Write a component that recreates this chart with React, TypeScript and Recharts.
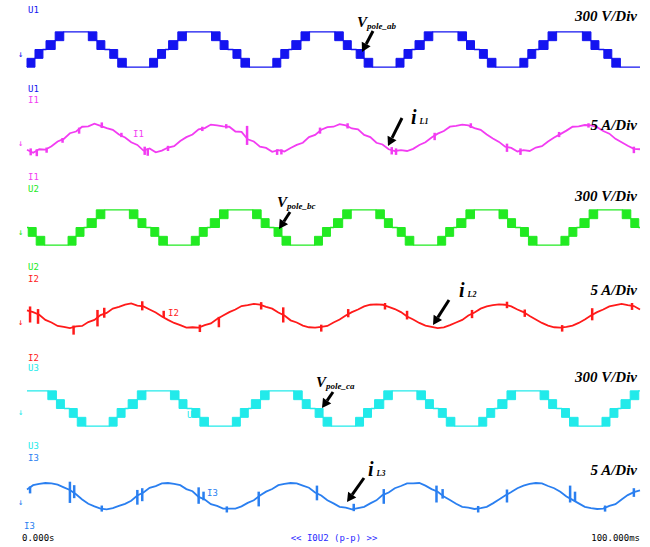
import React from 'react';
import { LineChart, Line, XAxis, YAxis, ReferenceArea, ReferenceLine } from 'recharts';

type Step = [number, number];
type Spike = [number, number, number];

// pole voltages: staircase corners [time ms, level 0..4]
const vPoleAb: Step[] = [
  [0, 0], [1.3, 1], [2.6, 2], [3.1, 2], [4.6, 3], [6.0, 4], [10.0, 4], [11.4, 3], [12.7, 2], [13.5, 2], [14.8, 1], [16.2, 0],
  [20.0, 0], [21.3, 1], [22.6, 2], [23.1, 2], [24.6, 3], [26.0, 4], [30.1, 4], [31.5, 3], [32.8, 2], [33.6, 2], [34.9, 1], [36.3, 0],
  [40.1, 0], [41.4, 1], [42.7, 2], [43.2, 2], [44.7, 3], [46.1, 4], [50.2, 4], [51.6, 3], [52.9, 2], [53.7, 2], [55.0, 1], [56.4, 0],
  [60.2, 0], [61.5, 1], [62.8, 2], [63.3, 2], [64.8, 3], [66.2, 4], [70.3, 4], [71.7, 3], [73.0, 2], [73.8, 2], [75.1, 1], [76.5, 0],
  [80.4, 0], [81.7, 1], [83.0, 2], [83.5, 2], [85.0, 3], [86.4, 4], [90.6, 4], [92.0, 3], [93.3, 2], [94.1, 2], [95.4, 1], [96.8, 0],
  [100, 0],
];

const vPoleBc: Step[] = [
  [0, 2], [0.2, 2], [1.5, 1], [2.9, 0],
  [6.7, 0], [8.0, 1], [9.3, 2], [9.8, 2], [11.3, 3], [12.7, 4], [16.7, 4], [18.1, 3], [19.4, 2], [20.2, 2], [21.5, 1], [22.9, 0],
  [26.8, 0], [28.1, 1], [29.4, 2], [29.9, 2], [31.4, 3], [32.8, 4], [36.8, 4], [38.2, 3], [39.5, 2], [40.3, 2], [41.6, 1], [43.0, 0],
  [46.9, 0], [48.2, 1], [49.5, 2], [50.0, 2], [51.5, 3], [52.9, 4], [56.9, 4], [58.3, 3], [59.6, 2], [60.4, 2], [61.7, 1], [63.1, 0],
  [67.0, 0], [68.3, 1], [69.6, 2], [70.1, 2], [71.6, 3], [73.0, 4], [77.0, 4], [78.4, 3], [79.7, 2], [80.5, 2], [81.8, 1], [83.2, 0],
  [87.1, 0], [88.4, 1], [89.7, 2], [90.2, 2], [91.7, 3], [93.1, 4], [97.1, 4], [98.5, 3], [99.8, 2], [100, 2],
];

const vPoleCa: Step[] = [
  [0, 4], [3.4, 4], [4.8, 3], [6.1, 2], [6.9, 2], [8.2, 1], [9.6, 0],
  [13.4, 0], [14.7, 1], [16.0, 2], [16.5, 2], [18.0, 3], [19.4, 4], [23.4, 4], [24.8, 3], [26.1, 2], [26.9, 2], [28.2, 1], [29.6, 0],
  [33.5, 0], [34.8, 1], [36.1, 2], [36.6, 2], [38.1, 3], [39.5, 4], [43.5, 4], [44.9, 3], [46.2, 2], [47.0, 2], [48.3, 1], [49.7, 0],
  [53.6, 0], [54.9, 1], [56.2, 2], [56.7, 2], [58.2, 3], [59.6, 4], [63.6, 4], [65.0, 3], [66.3, 2], [67.1, 2], [68.4, 1], [69.8, 0],
  [73.7, 0], [75.0, 1], [76.3, 2], [76.8, 2], [78.3, 3], [79.7, 4], [83.7, 4], [85.1, 3], [86.4, 2], [87.2, 2], [88.5, 1], [89.9, 0],
  [93.8, 0], [95.1, 1], [96.4, 2], [96.9, 2], [98.4, 3], [99.8, 4], [100, 4],
];

// load currents in A, one sample per ms from 0 to 100 ms
const iL1: number[] = [
  -2.7, -3.4, -2.6, -2.7, -1.9, -0.8, -0.2, 1.1, 1.5, 2.6, 2.7, 3.3, 2.8, 2.3, 1.9, 0.8, 0.1, -1.0, -1.6, -2.9,
  -2.4, -3.3, -2.9, -2.2, -1.9, -0.7, 0.2, 0.8, 2.0, 2.3, 3.1, 2.9, 2.7, 2.6, 1.5, 1.4, -0.3, -0.8, -2.0, -2.3,
  -3.2, -2.8, -3.1, -2.3, -1.6, -1.1, 0.2, 0.7, 1.9, 2.5, 2.6, 3.2, 2.9, 2.2, 2.0, 0.7, 0.2, -1.1, -1.5, -2.6,
  -3.0, -2.8, -3.0, -2.5, -1.6, -1.0, 0.1, 1.0, 1.6, 2.6, 2.8, 3.1, 2.9, 2.3, 1.9, 0.8, -0.1, -0.9, -2.0, -2.3,
  -3.1, -2.8, -3.0, -2.2, -1.9, -0.8, 0.1, 0.9, 1.7, 2.6, 2.7, 3.0, 2.9, 2.5, 1.6, 1.0, -0.2, -1.0, -1.8, -2.5,
  -2.6,
];

const iL2: number[] = [
  1.3, 0.9, 0.3, -0.9, -1.5, -2.3, -2.5, -2.8, -2.4, -2.3, -1.4, -0.9, 0.2, 0.7, 1.7, 2.1, 2.6, 2.9, 2.4, 2.2,
  1.5, 0.8, -0.1, -0.9, -1.6, -2.1, -2.7, -2.6, -2.7, -2.1, -1.7, -0.7, 0.1, 0.9, 1.5, 2.3, 2.5, 2.8, 2.6, 2.1,
  1.7, 0.8, 0.1, -1.0, -1.5, -2.2, -2.6, -2.7, -2.5, -2.3, -1.5, -0.8, 0.1, 0.9, 1.5, 2.2, 2.6, 2.7, 2.6, 2.1,
  1.6, 0.9, -0.1, -0.8, -1.6, -2.2, -2.5, -2.8, -2.6, -2.1, -1.5, -0.9, 0.1, 0.8, 1.7, 2.2, 2.5, 2.7, 2.6, 2.2,
  1.5, 0.9, 0.0, -0.8, -1.6, -2.2, -2.6, -2.7, -2.5, -2.2, -1.6, -0.8, 0.1, 0.9, 1.5, 2.2, 2.5, 2.8, 2.5, 2.3,
  1.5,
];

const iL3: number[] = [
  1.5, 2.5, 2.8, 3.0, 2.9, 2.6, 2.0, 1.4, 0.4, -0.8, -1.8, -2.4, -2.9, -3.1, -2.8, -2.3, -1.8, -1.1, 0.1, 0.8,
  1.9, 2.3, 2.9, 3.0, 2.8, 2.5, 1.6, 1.1, -0.2, -0.8, -1.9, -2.3, -2.9, -2.9, -2.9, -2.4, -1.6, -1.0, 0.1, 1.0,
  1.6, 2.5, 2.8, 3.0, 2.9, 2.4, 1.9, 0.8, 0.1, -1.0, -1.7, -2.5, -2.7, -3.1, -2.8, -2.5, -1.7, -1.0, 0.2, 0.8,
  1.8, 2.3, 2.9, 2.9, 3.0, 2.4, 1.6, 1.0, -0.1, -0.9, -1.8, -2.5, -2.7, -3.0, -2.8, -2.5, -1.7, -0.8, 0.1, 0.9,
  1.8, 2.4, 2.8, 3.0, 2.9, 2.3, 1.8, 1.0, -0.1, -0.9, -1.7, -2.5, -2.8, -3.0, -2.9, -2.3, -1.9, -0.8, 0.2, 0.9,
  1.3,
];

// switching spikes on the currents [time ms, low A, high A]
const iL1Spikes: Spike[] = [
  [0.6, -4.0, -2.4], [1.6, -4.2, -2.6], [3.2, -3.4, -2.2], [5.8, -1.1, 0.0], [8.5, 1.0, 2.4], [12.2, 2.3, 3.6],
  [15.4, 0.2, 1.2], [19.2, -3.9, -2.0], [19.7, -4.1, -2.4], [23.0, -3.0, -1.8], [28.6, 1.6, 2.6], [32.5, 2.2, 3.2],
  [35.9, -1.6, 2.8], [40.8, -3.9, -2.6], [41.5, -3.8, -2.6], [47.8, 1.0, 2.4], [52.3, 2.2, 3.4], [59.5, -3.8, -2.1],
  [60.2, -3.9, -2.4], [66.5, -0.5, 1.2], [72.4, 2.3, 3.4], [78.3, -3.2, -1.3], [80.5, -3.9, -2.4], [86.8, 0.2, 1.4],
  [91.6, 2.4, 3.4], [99.0, -3.5, -2.0],
];

const iL2Spikes: Spike[] = [
  [0.5, -1.5, 2.2], [1.8, -1.8, 1.6], [7.6, -4.3, -2.2], [11.5, -2.4, 1.4], [12.6, -0.4, 1.9], [18.8, 1.3, 3.4],
  [22.3, -0.3, 1.2], [28.2, -3.7, -2.0], [31.3, -2.6, -0.2], [38.2, 1.5, 3.2], [41.8, -1.5, 2.0], [48.0, -3.6, -2.0],
  [52.4, -0.3, 1.6], [58.4, 1.5, 3.0], [62.0, -0.8, 1.2], [72.6, -0.5, 1.4], [78.3, 1.8, 3.3], [81.2, -0.2, 1.5],
  [87.3, -3.6, -2.1], [92.2, -1.0, 1.8], [98.7, 1.4, 3.0],
];

const iL3Spikes: Spike[] = [
  [0.5, 0.6, 2.2], [7.0, -1.6, 3.3], [7.7, -0.5, 2.5], [12.2, -3.6, -2.2], [18.0, -2.0, 1.4], [18.8, -1.2, 1.8],
  [28.0, -1.8, 2.0], [28.8, -1.0, 1.0], [32.6, -3.8, -2.4], [37.8, -2.4, 1.0], [47.3, -1.0, 2.4], [53.3, -3.5, -1.8],
  [58.2, -1.8, 1.6], [66.8, -1.5, 2.4], [67.8, -0.6, 1.6], [73.6, -3.8, -2.3], [78.3, -1.5, 1.5], [88.6, -1.5, 2.4],
  [89.4, -1.2, 1.0], [94.3, -3.6, -2.2], [99.0, -0.2, 1.8],
];

const BLUE = '#1414f0';
const MAGENTA = '#f23cf2';
const GREEN = '#22ea22';
const RED = '#ff1a1a';
const CYAN = '#22eaea';
const BLUE2 = '#2a7ff0';

const chartMargin = { top: 0, right: 10, bottom: 0, left: 27 };

function PoleTrace({ steps, color, top }: { steps: Step[]; color: string; top: number }) {
  const data = steps.map(([t, v]) => ({ t, v }));
  // each change of level is drawn as a filled switching block
  const blocks = [];
  for (let i = 1; i < steps.length; i++) {
    const [t0, v0] = steps[i - 1];
    const [t1, v1] = steps[i];
    if (v0 !== v1) blocks.push({ x1: t0, x2: t1, y1: Math.min(v0, v1), y2: Math.max(v0, v1) });
  }
  return (
    <div style={{ position: 'absolute', left: 0, top }}>
      <LineChart width={650} height={53} data={data} margin={chartMargin}>
        <XAxis type="number" dataKey="t" domain={[0, 100]} hide />
        <YAxis type="number" domain={[-1, 5]} hide />
        {blocks.map((b, i) => (
          <ReferenceArea key={i} x1={b.x1} x2={b.x2} y1={b.y1} y2={b.y2} fill={color} fillOpacity={1} stroke={color} strokeWidth={1} ifOverflow="visible" />
        ))}
        <Line type="linear" dataKey="v" stroke={color} strokeWidth={1.3} dot={false} isAnimationActive={false} />
      </LineChart>
    </div>
  );
}

function CurrentTrace({ values, spikes, color, top }: { values: number[]; spikes: Spike[]; color: string; top: number }) {
  const data = values.map((v, i) => ({ t: i, v }));
  return (
    <div style={{ position: 'absolute', left: 0, top }}>
      <LineChart width={650} height={52} data={data} margin={chartMargin}>
        <XAxis type="number" dataKey="t" domain={[0, 100]} hide />
        <YAxis type="number" domain={[-6, 6]} hide />
        {spikes.map(([t, lo, hi], i) => (
          <ReferenceLine key={i} segment={[{ x: t, y: lo }, { x: t, y: hi }]} stroke={color} strokeWidth={2.5} ifOverflow="visible" />
        ))}
        <Line type="linear" dataKey="v" stroke={color} strokeWidth={1.8} dot={false} isAnimationActive={false} />
      </LineChart>
    </div>
  );
}

function Arrow({ x1, y1, x2, y2 }: { x1: number; y1: number; x2: number; y2: number }) {
  const len = Math.hypot(x2 - x1, y2 - y1);
  const ux = (x2 - x1) / len;
  const uy = (y2 - y1) / len;
  const bx = x2 - ux * 9;
  const by = y2 - uy * 9;
  const pts = `${x2},${y2} ${bx - uy * 5},${by + ux * 5} ${bx + uy * 5},${by - ux * 5}`;
  return (
    <g>
      <line x1={x1} y1={y1} x2={bx} y2={by} stroke="#000" strokeWidth={3} />
      <polygon points={pts} fill="#000" />
    </g>
  );
}

const mono = { fontFamily: '"DejaVu Sans Mono", monospace', fontSize: 9 };
const serif = { fontFamily: '"Liberation Serif", serif', fontWeight: 'bold' as const, fontStyle: 'italic' as const };

export default function App() {
  return (
    <div style={{ position: 'absolute', left: 0, top: 0, width: 650, height: 547, background: '#fff', overflow: 'hidden' }}>
      <PoleTrace steps={vPoleAb} color={BLUE} top={23} />
      <CurrentTrace values={iL1} spikes={iL1Spikes} color={MAGENTA} top={112} />
      <PoleTrace steps={vPoleBc} color={GREEN} top={201} />
      <CurrentTrace values={iL2} spikes={iL2Spikes} color={RED} top={290} />
      <PoleTrace steps={vPoleCa} color={CYAN} top={382} />
      <CurrentTrace values={iL3} spikes={iL3Spikes} color={BLUE2} top={470} />

      <svg width={650} height={547} style={{ position: 'absolute', left: 0, top: 0, pointerEvents: 'none' }}>
        {/* channel labels */}
        <text x={28} y={13} fill={BLUE} {...mono}>U1</text>
        <text x={18} y={57} fill={BLUE} {...mono}>↓</text>
        <text x={28} y={92} fill={BLUE} {...mono}>U1</text>
        <text x={28} y={103} fill={MAGENTA} {...mono}>I1</text>
        <text x={18} y={146} fill={MAGENTA} {...mono}>↓</text>
        <text x={133} y={137} fill={MAGENTA} {...mono}>I1</text>
        <text x={28} y={180} fill={MAGENTA} {...mono}>I1</text>
        <text x={28} y={192} fill={GREEN} {...mono}>U2</text>
        <text x={18} y={235} fill={GREEN} {...mono}>↓</text>
        <text x={28} y={270} fill={GREEN} {...mono}>U2</text>
        <text x={28} y={282} fill={RED} {...mono}>I2</text>
        <text x={18} y={325} fill={RED} {...mono}>↓</text>
        <text x={168} y={316} fill={RED} {...mono}>I2</text>
        <text x={28} y={361} fill={RED} {...mono}>I2</text>
        <text x={28} y={371} fill={CYAN} {...mono}>U3</text>
        <text x={18} y={415} fill={CYAN} {...mono}>↓</text>
        <text x={187} y={418} fill={CYAN} {...mono}>U3</text>
        <text x={28} y={449} fill={CYAN} {...mono}>U3</text>
        <text x={28} y={461} fill={BLUE2} {...mono}>I3</text>
        <text x={18} y={505} fill={BLUE2} {...mono}>↓</text>
        <text x={207} y={496} fill={BLUE2} {...mono}>I3</text>
        <text x={24} y={529} fill={BLUE2} {...mono}>I3</text>

        {/* time base */}
        <text x={22} y={541} fill="#000" {...mono}>0.000s</text>
        <text x={334} y={541} fill="#2a2aff" textAnchor="middle" {...mono}>{'<< I0U2 (p-p) >>'}</text>
        <text x={640} y={541} fill="#000" textAnchor="end" {...mono}>100.000ms</text>

        {/* scales */}
        <text x={637} y={21} fontSize={15} textAnchor="end" {...serif}>300 V/Div</text>
        <text x={637} y={130} fontSize={15} textAnchor="end" {...serif}>5 A/Div</text>
        <text x={637} y={201} fontSize={15} textAnchor="end" {...serif}>300 V/Div</text>
        <text x={637} y={295} fontSize={15} textAnchor="end" {...serif}>5 A/Div</text>
        <text x={637} y={382} fontSize={15} textAnchor="end" {...serif}>300 V/Div</text>
        <text x={637} y={475} fontSize={15} textAnchor="end" {...serif}>5 A/Div</text>

        {/* signal names */}
        <text x={357} y={27} {...serif}><tspan fontSize={15}>V</tspan><tspan fontSize={9} dy={2}>pole_ab</tspan></text>
        <text x={411} y={124} {...serif}><tspan fontSize={20}>i</tspan><tspan fontSize={8} dx={3}>L1</tspan></text>
        <text x={277} y={207} {...serif}><tspan fontSize={15}>V</tspan><tspan fontSize={9} dy={2}>pole_bc</tspan></text>
        <text x={459} y={297} {...serif}><tspan fontSize={20}>i</tspan><tspan fontSize={8} dx={3}>L2</tspan></text>
        <text x={316} y={387} {...serif}><tspan fontSize={15}>V</tspan><tspan fontSize={9} dy={2}>pole_ca</tspan></text>
        <text x={368} y={476} {...serif}><tspan fontSize={20}>i</tspan><tspan fontSize={8} dx={3}>L3</tspan></text>

        <Arrow x1={373} y1={31} x2={362} y2={52} />
        <Arrow x1={402} y1={118} x2={388} y2={146} />
        <Arrow x1={290} y1={212} x2={279} y2={229} />
        <Arrow x1={449} y1={300} x2={433} y2={325} />
        <Arrow x1={333} y1={392} x2={322} y2={408} />
        <Arrow x1={364} y1={478} x2={347} y2={502} />
      </svg>
    </div>
  );
}
